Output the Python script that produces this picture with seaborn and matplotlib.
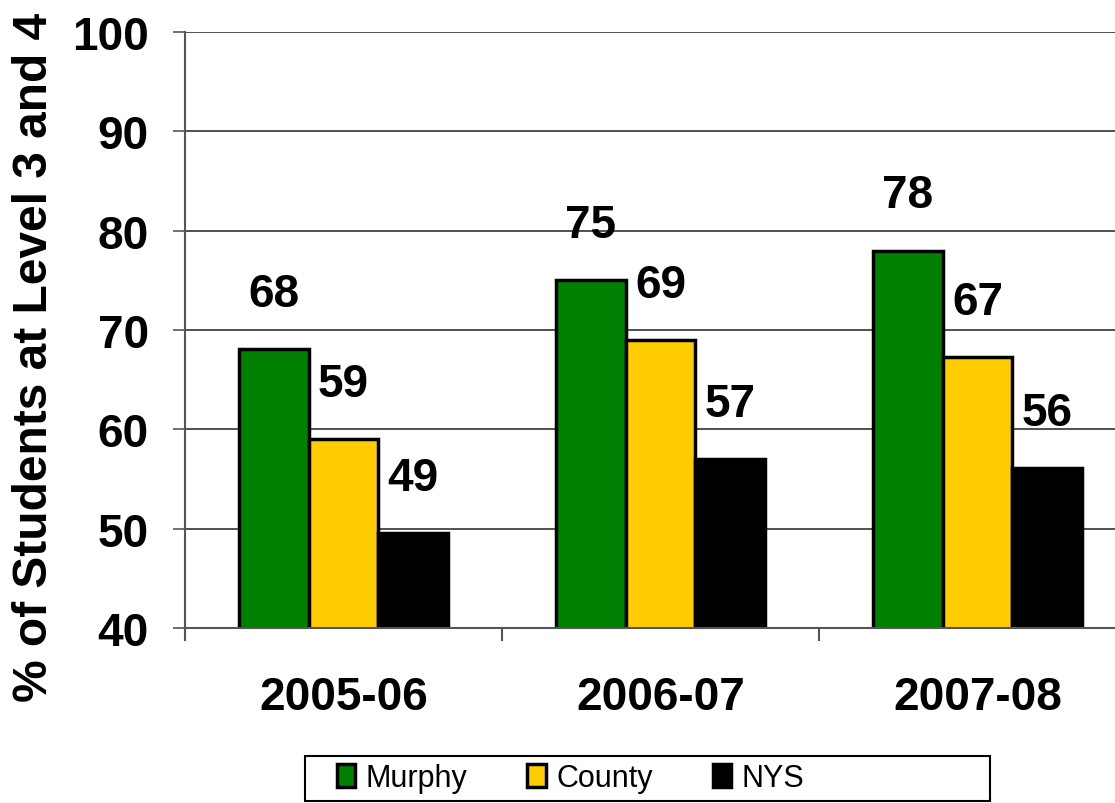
import matplotlib
matplotlib.use('Agg')
import matplotlib.pyplot as plt
import seaborn as sns
import pandas as pd
from matplotlib.patches import Patch, Rectangle

years = ['2005-06', '2006-07', '2007-08']
series = ['Murphy', 'County', 'NYS']
murphy = [68.1, 75.0, 78.0]
county = [59.0, 69.0, 67.3]
nys = [49.6, 57.0, 56.1]
murphy_labels = ['68', '75', '78']
county_labels = ['59', '69', '67']
nys_labels = ['49', '57', '56']
colors = ['#008000', '#FFCC00', '#000000']
yticks = [40, 50, 60, 70, 80, 90, 100]
ylabel = '% of Students at Level 3 and 4'

sns.set_theme(style='white')
plt.rcParams['font.family'] = ['Liberation Sans', 'DejaVu Sans']
plt.rcParams['text.color'] = 'black'
plt.rcParams['xtick.labelcolor'] = 'black'
plt.rcParams['ytick.labelcolor'] = 'black'

df = pd.DataFrame({
    'Year': years * 3,
    'Series': [series[0]] * 3 + [series[1]] * 3 + [series[2]] * 3,
    'Value': murphy + county + nys,
})

fig = plt.figure(figsize=(11.15, 8.04), dpi=100)
ax = fig.add_axes([185 / 1115, 175 / 804, 951 / 1115, 596 / 804])
sns.barplot(data=df, x='Year', y='Value', hue='Series', order=years,
            hue_order=series, palette=colors, width=0.66, saturation=1,
            edgecolor='black', linewidth=2.5, errorbar=None, legend=False, ax=ax)

for cont, labs in zip(ax.containers, [murphy_labels, county_labels, nys_labels]):
    for bar, lab in zip(cont, labs):
        ax.annotate(lab, xy=(bar.get_x() + bar.get_width() / 2, bar.get_height()),
                    xytext=(0, 31), textcoords='offset points', ha='center',
                    va='baseline', fontsize=33, fontweight='bold', color='black')

ax.set_ylim(40, 100)
ax.set_xlim(-0.5, 2.5)
ax.set_yticks(yticks)
ax.set_yticklabels([str(t) for t in yticks], fontsize=33, fontweight='bold', color='black')
ax.set_xticks(range(len(years)))
ax.set_xticklabels(years, fontsize=33, fontweight='bold', color='black')
ax.set_xlabel('')
ax.set_ylabel('')
ax.tick_params(axis='y', which='major', direction='out', length=9, width=1.2,
               color='#555555', pad=17, left=True)
ax.tick_params(axis='x', which='major', length=0, pad=34)
ax.set_xticks([-0.5, 0.5, 1.5], minor=True)
ax.tick_params(axis='x', which='minor', direction='out', length=9, width=1.5,
               color='#555555', bottom=True)
ax.yaxis.grid(True, color='#333333', linewidth=1.2)
ax.set_axisbelow(True)
for s in ['top', 'right']:
    ax.spines[s].set_visible(False)
for s in ['left', 'bottom']:
    ax.spines[s].set_color('#555555')
    ax.spines[s].set_linewidth(1.5)

fig.text(35 / 1115, 1 - 357 / 804, ylabel, rotation=90, ha='center', va='center',
         fontsize=34.5, fontweight='bold', color='black')

handles = [Patch(facecolor=c, edgecolor='black', linewidth=2.5) for c in colors]
leg = fig.legend(handles, series, loc='center left',
                 bbox_to_anchor=(309 / 1115, 1 - 779 / 804), ncol=3, frameon=False,
                 handlelength=0.6, handleheight=0.75,
                 handletextpad=0.35, columnspacing=1.96,
                 prop={'family': ['Liberation Sans'], 'size': 22})
for t in leg.get_texts():
    t.set_color('black')
fig.add_artist(Rectangle((305 / 1115, 0.002), 685 / 1115, 1 - 757 / 804 - 0.002,
                         transform=fig.transFigure, fill=False, edgecolor='black',
                         linewidth=1.5))

fig.savefig('out.png', dpi=100)
